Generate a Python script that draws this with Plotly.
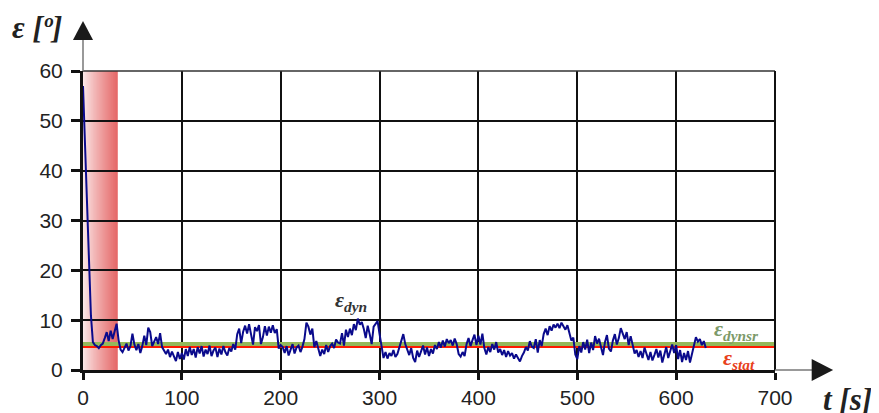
import plotly.graph_objects as go

# time axis [s], sampled every 2 s
t = list(range(0, 632, 2))

# dynamic deviation eps_dyn [deg]
eps_dyn = [
    57, 46, 34, 22, 11, 5.6, 5.0, 4.8, 4.4, 5.0,
    5.3, 6.4, 7.6, 5.8, 7.9, 6.2, 8.1, 9.3, 6.0, 4.1,
    3.6, 4.6, 5.3, 3.9, 4.8, 7.3, 5.1, 4.0, 5.2, 3.4,
    4.8, 6.9, 5.0, 8.5, 7.6, 4.8, 5.7, 6.6, 5.2, 7.4,
    4.6, 3.9, 3.2, 4.1, 2.6, 3.7, 2.9, 1.8, 3.6, 2.2,
    3.4, 2.1, 4.2, 2.8, 4.6, 3.0, 4.2, 2.5, 4.6, 3.3,
    4.8, 2.7, 4.1, 3.2, 4.9, 2.8, 3.9, 4.5, 2.6, 4.3,
    3.1, 4.8, 3.6, 2.9, 4.4, 3.7, 5.2, 4.1, 7.2, 8.3,
    5.4, 7.7, 8.9, 7.3, 9.2, 7.0, 5.1, 8.6, 7.8, 9.0,
    5.2, 6.6, 8.8, 6.9, 8.7, 7.5, 9.0, 7.4, 8.2, 4.3,
    5.0, 4.6, 3.4, 4.8, 2.9, 4.1, 5.2, 3.3, 4.5, 4.9,
    3.6, 4.7, 6.2, 9.5, 8.7, 7.1, 8.3, 4.6, 5.8, 4.3,
    2.8, 4.1, 3.2, 5.0, 3.6, 4.8, 5.3, 4.4, 6.1, 5.5,
    5.3, 7.4, 4.9, 8.1, 6.6, 8.3, 7.0, 9.2, 8.0, 10.3,
    9.1, 9.6, 8.3, 6.4, 8.9, 7.2, 5.2, 8.7, 9.3, 9.8,
    7.2, 5.0, 2.4, 3.6, 2.3, 3.4, 2.8, 4.0, 2.6, 3.2,
    4.6, 5.8, 7.2, 5.2, 4.1, 3.0, 4.4, 2.4, 1.6, 3.9,
    2.6, 3.8, 4.9, 3.1, 4.5, 2.8, 4.2, 3.3, 5.0, 4.2,
    5.6, 4.5, 5.9, 4.7, 6.2, 5.4, 6.0, 4.9, 6.3, 5.2,
    3.2, 2.7, 3.6, 2.8, 5.2, 6.4, 4.8, 6.0, 7.1, 5.0,
    6.9, 5.1, 7.3, 4.4, 3.1, 4.6, 3.6, 5.2, 4.1, 5.6,
    3.5, 4.2, 3.0, 4.0, 2.6, 3.8, 2.9, 3.4, 2.3, 3.1,
    2.4, 1.7, 2.8, 3.5, 4.6, 3.9, 5.8, 4.7, 4.4, 6.2,
    3.5, 6.0, 4.8, 7.2, 8.3, 7.0, 8.8, 7.9, 9.1, 8.5,
    9.3, 8.4, 9.5, 8.8, 8.1, 9.0, 7.6, 5.9, 6.5, 3.1,
    2.2, 4.8, 3.5, 5.6, 4.1, 6.1, 3.4, 5.5, 4.0, 6.8,
    5.3, 6.3, 4.6, 3.0, 5.6, 7.0, 4.3, 3.7, 5.9, 7.2,
    5.1, 6.4, 8.4, 7.1, 6.2, 7.6, 5.0, 6.8, 4.8, 3.3,
    4.0, 2.6, 3.8, 2.4, 4.5, 3.2, 2.0, 3.6, 1.9, 3.0,
    4.2, 2.5, 3.9, 1.5, 3.3, 4.6, 2.4, 3.8, 5.1, 3.4,
    5.0, 2.2, 4.0, 1.6, 3.4, 2.0, 3.8, 1.5, 3.2, 5.4,
    6.6, 5.7, 6.2, 5.0, 5.8, 4.4,
]

eps_dynsr = 5.1   # mean dynamic level
eps_stat = 4.6    # static level
t_end = 700
t_start_zone = 35  # shaded start-up zone

fig = go.Figure()

fig.add_trace(go.Scatter(x=[0, t_end], y=[eps_dynsr, eps_dynsr], mode="lines",
                         line=dict(color="#94b85a", width=5), hoverinfo="skip"))
fig.add_trace(go.Scatter(x=[0, t_end], y=[eps_stat, eps_stat], mode="lines",
                         line=dict(color="#ff1a00", width=2), hoverinfo="skip"))
fig.add_trace(go.Scatter(x=t, y=eps_dyn, mode="lines",
                         line=dict(color="#0a0a8c", width=2)))

# gradient shading of start-up zone (thin strips)
shapes = []
n = 35
c0 = (251, 232, 232)
c1 = (222, 58, 58)
for i in range(n):
    f = i / (n - 1)
    col = "rgb(%d,%d,%d)" % tuple(int(c0[k] + (c1[k] - c0[k]) * f) for k in range(3))
    shapes.append(dict(type="rect", xref="x", yref="y", layer="below",
                       x0=t_start_zone * i / n, x1=t_start_zone * (i + 1) / n,
                       y0=0, y1=60, fillcolor=col, line=dict(width=0)))

# frame: top and right border
shapes.append(dict(type="line", xref="paper", yref="paper", x0=0, x1=1, y0=1, y1=1,
                   line=dict(color="#333", width=1.5)))
shapes.append(dict(type="line", xref="paper", yref="paper", x0=1, x1=1, y0=0, y1=1,
                   line=dict(color="#111", width=2)))

# axis extensions with arrows
shapes.append(dict(type="line", xref="paper", yref="paper", x0=0, x1=0, y0=1, y1=1.11,
                   line=dict(color="#777", width=1.5)))
shapes.append(dict(type="line", xref="paper", yref="paper", x0=1, x1=1.055, y0=0, y1=0,
                   line=dict(color="#777", width=1.5)))
shapes.append(dict(type="path", xref="paper", yref="paper",
                   path="M -0.0145 1.104 L 0.0145 1.104 L 0 1.167 Z",
                   fillcolor="#1a1a1a", line=dict(width=0)))
shapes.append(dict(type="path", xref="paper", yref="paper",
                   path="M 1.053 0.037 L 1.053 -0.037 L 1.084 0 Z",
                   fillcolor="#1a1a1a", line=dict(width=0)))

serif = "Liberation Serif, Times New Roman, serif"
annotations = [
    dict(xref="paper", yref="paper", x=-0.106, y=1.145, xanchor="left", yanchor="middle",
         text="<b><i>ε [º]</i></b>", showarrow=False,
         font=dict(family=serif, size=31, color="#222")),
    dict(xref="paper", yref="paper", x=1.066, y=-0.10, xanchor="left", yanchor="middle",
         text="<b><i>t [s]</i></b>", showarrow=False,
         font=dict(family=serif, size=31, color="#222")),
    dict(x=253, y=13.9, xanchor="left", yanchor="middle",
         text="<b><i>ε<sub>dyn</sub></i></b>", showarrow=False,
         font=dict(family=serif, size=22, color="#333")),
    dict(x=636, y=8.0, xanchor="left", yanchor="middle",
         text="<b><i>ε<sub>dynsr</sub></i></b>", showarrow=False,
         font=dict(family=serif, size=22, color="#7d9a6a")),
    dict(x=645, y=2.2, xanchor="left", yanchor="middle",
         text="<b><i>ε<sub>stat</sub></i></b>", showarrow=False,
         font=dict(family=serif, size=22, color="#e8401c")),
]

# page body has an 8px margin, so the figure is 16px smaller than the window
fig.update_layout(
    width=871, height=405,
    margin=dict(l=75, r=104, t=63, b=43, autoexpand=False),
    paper_bgcolor="white", plot_bgcolor="white",
    showlegend=False,
    shapes=shapes,
    annotations=annotations,
    font=dict(family="Liberation Sans, Arial, sans-serif", size=21, color="#222"),
)
fig.update_xaxes(range=[0, t_end], tickvals=list(range(0, 701, 100)),
                 showgrid=True, gridcolor="#111", gridwidth=1.5,
                 showline=True, linecolor="#111", linewidth=3, mirror=False,
                 ticks="outside", ticklen=7, tickwidth=3, tickcolor="#111",
                 zeroline=False)
fig.update_yaxes(range=[0, 60], tickvals=list(range(0, 61, 10)),
                 showgrid=True, gridcolor="#111", gridwidth=1.5,
                 showline=True, linecolor="#111", linewidth=3,
                 ticks="outside", ticklen=9, tickwidth=3, tickcolor="#111",
                 ticklabelstandoff=4, zeroline=False)

fig.write_html("out.html")
